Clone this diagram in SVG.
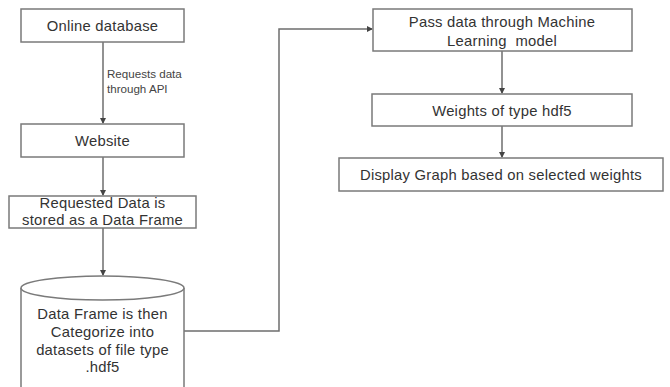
<svg xmlns="http://www.w3.org/2000/svg" width="670" height="387" viewBox="0 0 670 387">
<style>
.box{fill:#fff;stroke:#7a7a7a;stroke-width:1.5}
.t{font-family:"Liberation Sans",Arial,sans-serif;font-size:14.8px;letter-spacing:0.25px;fill:#333;text-anchor:middle}
.s{font-family:"Liberation Sans",Arial,sans-serif;font-size:11.6px;fill:#444}
.c{fill:none;stroke:#6e6e6e;stroke-width:1.5}
</style>
<defs>
<marker id="ah" markerWidth="6" markerHeight="6" refX="5" refY="3" orient="auto" markerUnits="userSpaceOnUse">
<path d="M0,0 L6,3 L0,6 z" fill="#444"/>
</marker>
</defs>
<rect width="670" height="387" fill="#fff"/>
<g id="connectors">
<line class="c" x1="103" y1="42" x2="103" y2="123" marker-end="url(#ah)"/>
<line class="c" x1="103" y1="157" x2="103" y2="195" marker-end="url(#ah)"/>
<line class="c" x1="103" y1="228" x2="103" y2="275" marker-end="url(#ah)"/>
<polyline class="c" points="184,331 279,331 279,29 372,29" marker-end="url(#ah)"/>
<line class="c" x1="502" y1="51" x2="502" y2="93" marker-end="url(#ah)"/>
<line class="c" x1="502" y1="126" x2="502" y2="157" marker-end="url(#ah)"/>
<text class="s" x="107" y="78">Requests data</text>
<text class="s" x="107" y="93">through API</text>
</g>
<g id="online-database">
<rect class="box" x="21" y="9" width="163" height="33"/>
<text class="t" x="102.5" y="31">Online database</text>
</g>
<g id="website">
<rect class="box" x="21" y="124" width="163" height="33"/>
<text class="t" x="102.5" y="146">Website</text>
</g>
<g id="requested-data">
<rect class="box" x="9" y="196" width="187" height="32"/>
<text class="t" x="102.5" y="208">Requested Data is</text>
<text class="t" x="102.5" y="225">stored as a Data Frame</text>
</g>
<g id="data-frame">
<path class="box" d="M21,288 A81.5,12 0 0 1 184,288 L184,400 L21,400 Z"/>
<path class="box" d="M21,288 A81.5,12 0 0 0 184,288" fill="none"/>
<text class="t" x="102.5" y="319">Data Frame is then</text>
<text class="t" x="102.5" y="337">Categorize into</text>
<text class="t" x="102.5" y="354.5">datasets of file type</text>
<text class="t" x="102.5" y="372">.hdf5</text>
</g>
<g id="ml-model">
<rect class="box" x="373" y="9" width="259" height="42"/>
<text class="t" x="502" y="27">Pass data through Machine</text>
<text class="t" x="502" y="46" xml:space="preserve">Learning  model</text>
</g>
<g id="weights">
<rect class="box" x="372" y="94" width="260" height="32"/>
<text class="t" x="502" y="115.5">Weights of type hdf5</text>
</g>
<g id="display-graph">
<rect class="box" x="339" y="158" width="324" height="33"/>
<text class="t" x="501" y="180">Display Graph based on selected weights</text>
</g>
</svg>
